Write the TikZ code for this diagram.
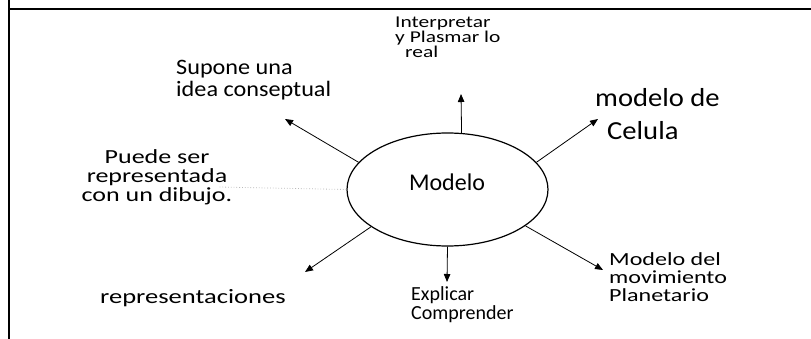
\documentclass[tikz,border=0pt]{standalone}
\usepackage{fontspec}
\setmainfont{Carlito}
\newfontfamily\hw[FakeStretch=1.3]{Carlito}
\newfontfamily\hwn[FakeStretch=1.1]{Carlito}
\usetikzlibrary{arrows.meta,shapes.geometric}
\begin{document}
\begin{tikzpicture}[x=1pt,y=-1pt,
  frameline/.style={line width=2pt},
  conn/.style={line width=0.8pt,-{Triangle[length=8pt,width=6.5pt]}},
  faint/.style={gray!55,dotted,line width=0.8pt},
  lbl/.style={inner sep=0pt,anchor=base west,align=left},
  lblc/.style={inner sep=0pt,anchor=base,align=center},
  bubble/.style={draw,ellipse,line width=1.2pt,minimum width=201pt,minimum height=113pt,inner sep=0pt}]
\useasboundingbox (0,0) rectangle (811,339);
% frame of the table cell
\draw[frameline] (9,0) -- (9,339);
\draw[frameline] (9,9) -- (811,9);
% centre
\node[bubble] (m) at (447.5,189.5) {};
\node[inner sep=0pt,anchor=base] (mt) at (447,191) {\fontsize{24}{28}\selectfont Modelo};
% arrow tips
\coordinate (tUL) at (285,119);
\coordinate (tT) at (461,94);
\coordinate (tUR) at (598,119);
\coordinate (tLL) at (305,272);
\coordinate (tB) at (447,282);
\coordinate (tLR) at (603,270);
\coordinate (dL) at (218,187);
% connectors
\draw[conn] (m.163) -- (tUL);
\draw[conn] (m.76) -- (tT);
\draw[conn] (m.17) -- (tUR);
\draw[conn] (m.206) -- (tLL);
\draw[conn] (m.south) -- (tB);
\draw[conn] (m.335) -- (tLR);
\draw[faint] (m.west) -- (dL);
% labels (base anchor = baseline of the last line)
\node[lbl,font=\hwn\fontsize{22}{22}\selectfont] (sup) at (176,97) {Supone una\\idea conseptual};
\node[lbl,font=\hw\fontsize{16.5}{15}\selectfont] (int) at (395,58) {Interpretar\\y Plasmar lo\\\hspace*{10pt}real};
\node[lbl,font=\hwn\fontsize{26}{33}\selectfont] (cel) at (595,140) {modelo de\\\hspace*{12pt}Celula};
\node[lblc,font=\hw\fontsize{20}{19}\selectfont] (pue) at (157,202) {Puede ser\\representada\\con un dibujo.};
\node[lbl,font=\hw\fontsize{20.4}{22}\selectfont] (rep) at (100,303) {representaciones};
\node[lbl,font=\fontsize{20}{19}\selectfont] (exp) at (411,319) {Explicar\\Comprender};
\node[lbl,font=\hw\fontsize{18.5}{18}\selectfont] (pla) at (609,301) {Modelo del\\movimiento\\Planetario};
\end{tikzpicture}
\end{document}
